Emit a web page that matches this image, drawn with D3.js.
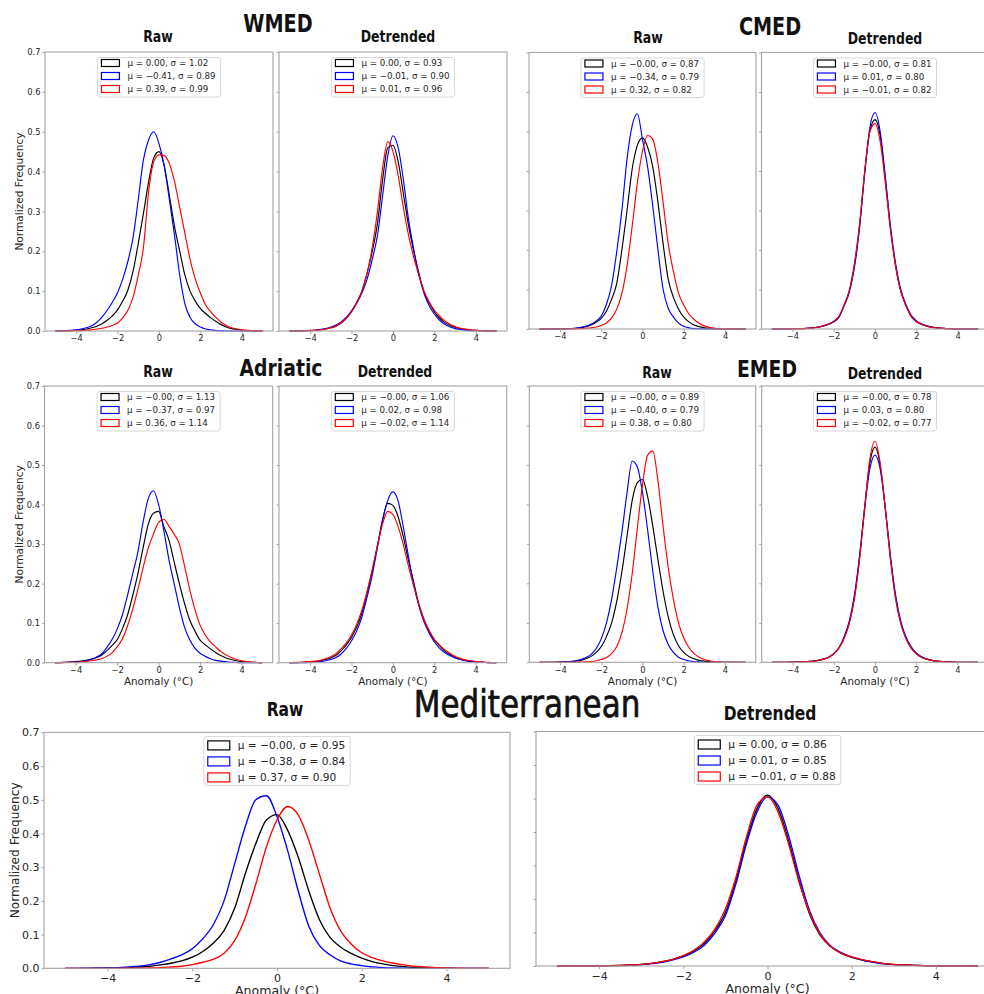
<!DOCTYPE html>
<html><head><meta charset="utf-8">
<script src="https://cdn.jsdelivr.net/npm/d3@7/dist/d3.min.js"></script>
<style>
body{margin:0;background:#fff}
svg{display:block}
text{font-family:"DejaVu Sans",sans-serif}
</style>
</head><body>
<svg id="c" width="984" height="994"></svg>
<script>
// ---------------- DATA ----------------
const anomalyGrid = [-5,-4.75,-4.5,-4.25,-4,-3.75,-3.5,-3.25,-3,-2.75,-2.5,-2.25,-2,-1.75,-1.5,-1.25,-1,-0.75,-0.5,-0.25,0,0.25,0.5,0.75,1,1.25,1.5,1.75,2,2.25,2.5,2.75,3,3.25,3.5,3.75,4,4.25,4.5,4.75,5];
const xTickValues = [-4,-2,0,2,4];
const yTickValues = [0,0.1,0.2,0.3,0.4,0.5,0.6,0.7];
const seriesColors = ["black","blue","red"];
const regionTitles = ["WMED","CMED","Adriatic","EMED","Mediterranean"];
const panelTitles = ["Raw","Detrended"];

const wmedRawBlack = [0,0,0.001,0.001,0.002, 0.003,0.005,0.008,0.012,0.018, 0.027,0.038,0.053,0.075,0.103, 0.150,0.220,0.295,0.375,0.435, 0.450,0.415,0.340,0.262,0.200, 0.140,0.100,0.075,0.056,0.044, 0.033,0.024,0.016,0.010,0.006, 0.004,0.002,0.001,0.001,0, 0];
const wmedRawBlue  = [0,0.0005,0.001,0.002,0.003, 0.005,0.008,0.013,0.022,0.035, 0.052,0.072,0.096,0.130,0.175, 0.235,0.330,0.430,0.480,0.500, 0.470,0.415,0.330,0.240,0.140, 0.068,0.034,0.018,0.010,0.005, 0.003,0.001,0.0005,0,0, 0,0,0,0,0, 0];
const wmedRawRed   = [0,0,0,0.0005,0.001, 0.001,0.002,0.003,0.005,0.007, 0.010,0.014,0.020,0.033,0.052, 0.085,0.140,0.210,0.350,0.425, 0.442,0.440,0.420,0.375,0.310, 0.245,0.180,0.130,0.095,0.065, 0.048,0.034,0.022,0.014,0.008, 0.005,0.003,0.002,0.001,0.0005, 0];
const wmedDetBlack = [0,0,0.0005,0.001,0.0015, 0.002,0.003,0.005,0.008,0.012, 0.020,0.032,0.050,0.072,0.100, 0.145,0.200,0.270,0.380,0.460, 0.466,0.425,0.345,0.265,0.200, 0.145,0.098,0.070,0.048,0.032, 0.021,0.014,0.009,0.006,0.004, 0.002,0.0015,0.001,0.0005,0, 0];
const wmedDetBlue  = [0,0,0,0.001,0.001, 0.002,0.004,0.006,0.010,0.015, 0.023,0.035,0.050,0.070,0.095, 0.130,0.180,0.240,0.340,0.440, 0.490,0.460,0.380,0.280,0.205, 0.140,0.094,0.063,0.042,0.027, 0.017,0.010,0.006,0.004,0.002, 0.001,0.001,0,0,0, 0];
const wmedDetRed   = [0,0,0,0.0005,0.001, 0.002,0.003,0.005,0.008,0.013, 0.021,0.032,0.048,0.070,0.100, 0.145,0.210,0.300,0.410,0.475, 0.450,0.390,0.310,0.240,0.185, 0.140,0.100,0.073,0.052,0.037, 0.025,0.017,0.011,0.007,0.005, 0.003,0.002,0.001,0.0005,0, 0];

const cmedRawBlack = [0,0,0,0.0005,0.0005, 0.001,0.001,0.002,0.003,0.006, 0.010,0.017,0.027,0.045,0.075, 0.115,0.200,0.300,0.405,0.465, 0.484,0.460,0.410,0.320,0.215, 0.125,0.080,0.050,0.030,0.018, 0.010,0.006,0.003,0.002,0.001, 0.0005,0,0,0,0, 0];
const cmedRawBlue  = [0,0,0,0,0, 0,0.001,0.002,0.004,0.007, 0.012,0.020,0.033,0.062,0.110, 0.195,0.300,0.430,0.515,0.545, 0.480,0.410,0.310,0.200,0.100, 0.052,0.030,0.015,0.007,0.003, 0.001,0.0005,0,0,0, 0,0,0,0,0, 0];
const cmedRawRed   = [0,0,0,0,0, 0,0,0.0005,0.001,0.002, 0.003,0.005,0.009,0.015,0.028, 0.050,0.090,0.160,0.260,0.370, 0.450,0.490,0.480,0.420,0.320, 0.215,0.145,0.090,0.060,0.038, 0.024,0.014,0.008,0.004,0.002, 0.001,0.0005,0,0,0, 0];
const cmedDetBlack = [0,0,0,0,0.0005, 0.001,0.001,0.002,0.003,0.005, 0.008,0.012,0.018,0.030,0.060, 0.095,0.160,0.260,0.395,0.500, 0.530,0.490,0.380,0.255,0.160, 0.095,0.060,0.032,0.019,0.012, 0.008,0.005,0.003,0.002,0.001, 0.0005,0,0,0,0, 0];
const cmedDetBlue  = [0,0,0,0,0.0005, 0.001,0.001,0.002,0.003,0.005, 0.008,0.012,0.019,0.030,0.058, 0.092,0.155,0.255,0.395,0.510, 0.548,0.500,0.385,0.260,0.165, 0.100,0.062,0.035,0.021,0.013, 0.008,0.005,0.003,0.002,0.001, 0.0005,0,0,0,0, 0];
const cmedDetRed   = [0,0,0,0,0.0005, 0.001,0.001,0.002,0.003,0.005, 0.008,0.013,0.020,0.032,0.060, 0.097,0.165,0.265,0.400,0.500, 0.520,0.475,0.370,0.250,0.158, 0.095,0.058,0.033,0.019,0.012, 0.007,0.004,0.003,0.002,0.001, 0.0005,0,0,0,0, 0];

const adrRawBlack = [0,0.0005,0.001,0.002,0.003, 0.004,0.006,0.009,0.013,0.019, 0.030,0.043,0.058,0.085,0.120, 0.170,0.225,0.290,0.350,0.378, 0.383,0.345,0.310,0.255,0.200, 0.150,0.108,0.080,0.057,0.045, 0.035,0.026,0.018,0.012,0.008, 0.005,0.003,0.002,0.001,0.0005, 0];
const adrRawBlue  = [0,0,0.001,0.001,0.002, 0.003,0.005,0.008,0.014,0.022, 0.038,0.058,0.085,0.120,0.170, 0.225,0.280,0.355,0.415,0.435, 0.400,0.335,0.260,0.200,0.140, 0.090,0.058,0.037,0.024,0.016, 0.010,0.006,0.004,0.002,0.001, 0.0005,0,0,0,0, 0];
const adrRawRed   = [0,0,0.0005,0.001,0.001, 0.002,0.003,0.005,0.007,0.010, 0.016,0.025,0.040,0.060,0.093, 0.135,0.185,0.240,0.290,0.325, 0.355,0.363,0.345,0.325,0.300, 0.245,0.185,0.135,0.095,0.070, 0.052,0.040,0.028,0.020,0.013, 0.008,0.005,0.003,0.0015,0.0005, 0];
const adrDetBlack = [0,0,0.0005,0.001,0.002, 0.003,0.005,0.008,0.012,0.019, 0.030,0.045,0.064,0.090,0.125, 0.175,0.230,0.295,0.360,0.403, 0.398,0.370,0.320,0.260,0.205, 0.150,0.110,0.080,0.058,0.043, 0.030,0.021,0.014,0.009,0.006, 0.004,0.002,0.001,0.0005,0, 0];
const adrDetBlue  = [0,0,0,0,0.001, 0.002,0.003,0.005,0.008,0.013, 0.022,0.036,0.055,0.080,0.115, 0.165,0.220,0.290,0.360,0.410, 0.432,0.410,0.345,0.270,0.200, 0.145,0.104,0.075,0.053,0.037, 0.026,0.018,0.012,0.008,0.005, 0.003,0.002,0.001,0.0005,0, 0];
const adrDetRed   = [0,0.001,0.001,0.002,0.003, 0.004,0.006,0.010,0.015,0.023, 0.035,0.050,0.070,0.097,0.132, 0.180,0.235,0.295,0.350,0.383, 0.375,0.345,0.300,0.245,0.195, 0.148,0.110,0.082,0.060,0.045, 0.033,0.024,0.016,0.011,0.007, 0.005,0.003,0.002,0.001,0.0005, 0];

const emedRawBlack = [0,0,0,0,0.001, 0.001,0.002,0.003,0.005,0.009, 0.015,0.025,0.040,0.065,0.100, 0.155,0.230,0.320,0.410,0.455, 0.463,0.420,0.345,0.260,0.180, 0.115,0.070,0.042,0.025,0.015, 0.009,0.005,0.003,0.002,0.001, 0,0,0,0,0, 0];
const emedRawBlue  = [0,0,0,0,0.0005, 0.001,0.002,0.004,0.007,0.012, 0.020,0.035,0.060,0.100,0.160, 0.240,0.330,0.430,0.510,0.495, 0.430,0.335,0.230,0.140,0.080, 0.045,0.025,0.013,0.007,0.004, 0.002,0.001,0,0,0, 0,0,0,0,0, 0];
const emedRawRed   = [0,0,0,0,0, 0,0,0,0.0005,0.001, 0.002,0.004,0.007,0.012,0.022, 0.040,0.075,0.135,0.225,0.340, 0.450,0.525,0.535,0.460,0.345, 0.240,0.160,0.100,0.062,0.038, 0.022,0.013,0.007,0.004,0.002, 0.001,0,0,0,0, 0];
const emedDetBlack = [0,0,0,0,0.0005, 0.001,0.001,0.002,0.003,0.005, 0.008,0.013,0.022,0.037,0.062, 0.100,0.165,0.265,0.395,0.505, 0.545,0.500,0.390,0.265,0.165, 0.100,0.062,0.037,0.022,0.013, 0.008,0.005,0.003,0.002,0.001, 0.0005,0,0,0,0, 0];
const emedDetBlue  = [0,0,0,0,0.0005, 0.001,0.001,0.002,0.003,0.005, 0.008,0.013,0.022,0.037,0.064, 0.104,0.170,0.270,0.390,0.490, 0.525,0.490,0.390,0.270,0.170, 0.105,0.065,0.040,0.024,0.015, 0.009,0.005,0.003,0.002,0.001, 0.0005,0,0,0,0, 0];
const emedDetRed   = [0,0,0,0,0.0005, 0.001,0.001,0.002,0.003,0.005, 0.008,0.013,0.022,0.036,0.060, 0.098,0.160,0.260,0.390,0.515, 0.560,0.505,0.390,0.260,0.160, 0.098,0.060,0.036,0.022,0.013, 0.008,0.005,0.003,0.002,0.001, 0.0005,0,0,0,0, 0];

const medRawBlack = [0,0,0,0.0005,0.001, 0.001,0.002,0.004,0.006,0.010, 0.015,0.022,0.033,0.050,0.075, 0.112,0.178,0.280,0.370,0.440, 0.456,0.410,0.330,0.230,0.145, 0.092,0.063,0.044,0.030,0.020, 0.013,0.008,0.005,0.003,0.002, 0.001,0.0005,0,0,0, 0];
const medRawBlue  = [0,0,0.0005,0.001,0.001, 0.002,0.004,0.006,0.011,0.018, 0.028,0.040,0.058,0.088,0.130, 0.200,0.310,0.420,0.500,0.512, 0.450,0.350,0.230,0.125,0.068, 0.040,0.022,0.013,0.008,0.004, 0.002,0.001,0.0005,0,0, 0,0,0,0,0, 0];
const medRawRed   = [0,0,0,0,0, 0,0.0005,0.0005,0.001,0.002, 0.004,0.006,0.011,0.018,0.027, 0.045,0.082,0.150,0.250,0.360, 0.440,0.480,0.455,0.380,0.280, 0.180,0.112,0.072,0.046,0.032, 0.022,0.015,0.010,0.006,0.004, 0.002,0.001,0.0005,0,0, 0];
const medDetBlack = [0,0,0,0,0.0005, 0.001,0.002,0.003,0.005,0.008, 0.013,0.020,0.030,0.045,0.068, 0.105,0.160,0.255,0.375,0.470, 0.510,0.470,0.375,0.255,0.155, 0.092,0.058,0.038,0.026,0.018, 0.012,0.007,0.004,0.003,0.002, 0.001,0.0005,0,0,0, 0];
const medDetBlue  = [0,0,0,0,0.0005, 0.001,0.001,0.002,0.004,0.007, 0.011,0.018,0.027,0.041,0.062, 0.098,0.150,0.245,0.365,0.460, 0.505,0.480,0.390,0.270,0.165, 0.098,0.060,0.040,0.027,0.018, 0.012,0.007,0.004,0.003,0.002, 0.001,0.0005,0,0,0, 0];
const medDetRed   = [0,0,0,0,0.0005, 0.001,0.002,0.003,0.005,0.008, 0.013,0.020,0.031,0.047,0.072, 0.110,0.170,0.265,0.385,0.480, 0.505,0.460,0.365,0.250,0.160, 0.095,0.058,0.038,0.027,0.019, 0.013,0.008,0.005,0.003,0.002, 0.001,0.0005,0,0,0, 0];

const wmedRawLegend = ["μ = 0.00, σ = 1.02","μ = −0.41, σ = 0.89","μ = 0.39, σ = 0.99"];
const wmedDetLegend = ["μ = 0.00, σ = 0.93","μ = −0.01, σ = 0.90","μ = 0.01, σ = 0.96"];
const cmedRawLegend = ["μ = −0.00, σ = 0.87","μ = −0.34, σ = 0.79","μ = 0.32, σ = 0.82"];
const cmedDetLegend = ["μ = −0.00, σ = 0.81","μ = 0.01, σ = 0.80","μ = −0.01, σ = 0.82"];
const adrRawLegend  = ["μ = −0.00, σ = 1.13","μ = −0.37, σ = 0.97","μ = 0.36, σ = 1.14"];
const adrDetLegend  = ["μ = −0.00, σ = 1.06","μ = 0.02, σ = 0.98","μ = −0.02, σ = 1.14"];
const emedRawLegend = ["μ = −0.00, σ = 0.89","μ = −0.40, σ = 0.79","μ = 0.38, σ = 0.80"];
const emedDetLegend = ["μ = −0.00, σ = 0.78","μ = 0.03, σ = 0.80","μ = −0.02, σ = 0.77"];
const medRawLegend  = ["μ = −0.00, σ = 0.95","μ = −0.38, σ = 0.84","μ = 0.37, σ = 0.90"];
const medDetLegend  = ["μ = 0.00, σ = 0.86","μ = 0.01, σ = 0.85","μ = −0.01, σ = 0.88"];

// ---------------- LAYOUT ----------------
const panels = [
  {series:[wmedRawBlack,wmedRawBlue,wmedRawRed], legend:wmedRawLegend, left:45, right:273, top:52, bottom:331, yLab:true, xLab:false, big:false},
  {series:[wmedDetBlack,wmedDetBlue,wmedDetRed], legend:wmedDetLegend, left:279, right:507, top:52, bottom:331, yLab:false, xLab:false, big:false},
  {series:[cmedRawBlack,cmedRawBlue,cmedRawRed], legend:cmedRawLegend, left:529, right:756, top:52.5, bottom:329, yLab:false, xLab:false, big:false},
  {series:[cmedDetBlack,cmedDetBlue,cmedDetRed], legend:cmedDetLegend, left:761.5, right:988.5, top:52.5, bottom:329, yLab:false, xLab:false, big:false},
  {series:[adrRawBlack,adrRawBlue,adrRawRed], legend:adrRawLegend, left:44.5, right:272.7, top:386, bottom:662.7, yLab:true, xLab:true, big:false},
  {series:[adrDetBlack,adrDetBlue,adrDetRed], legend:adrDetLegend, left:279, right:506.7, top:386, bottom:662.7, yLab:false, xLab:true, big:false},
  {series:[emedRawBlack,emedRawBlue,emedRawRed], legend:emedRawLegend, left:529.3, right:755.7, top:386, bottom:662.3, yLab:false, xLab:true, big:false},
  {series:[emedDetBlack,emedDetBlue,emedDetRed], legend:emedDetLegend, left:761.7, right:988.3, top:386, bottom:662.3, yLab:false, xLab:true, big:false},
  {series:[medRawBlack,medRawBlue,medRawRed], legend:medRawLegend, left:44, right:510, top:732.4, bottom:968.3, yLab:true, xLab:true, big:true},
  {series:[medDetBlack,medDetBlue,medDetRed], legend:medDetLegend, left:536, right:999, top:731.5, bottom:966, yLab:false, xLab:true, big:true}
];

const svg = d3.select("#c");
const spineColor = "#a3a3a3";
const tickTextColor = "#262626";
const fmtX = d => (d < 0 ? "\u2212" + Math.abs(d) : String(d));

panels.forEach(p => {
  const x = d3.scaleLinear().domain([-5.5, 5.5]).range([p.left, p.right]);
  const y = d3.scaleLinear().domain([0, 0.7]).range([p.bottom, p.top]);
  const g = svg.append("g");
  const tickFs = p.big ? 11 : 8.3;

  // curves
  p.series.forEach((vals, i) => {
    const line = d3.line()
      .x((d, j) => x(anomalyGrid[j]))
      .y(d => y(d))
      .curve(d3.curveMonotoneX);
    g.append("path").attr("d", line(vals))
      .attr("fill", "none").attr("stroke", seriesColors[i])
      .attr("stroke-width", p.big ? 1.35 : 1.15).attr("stroke-linejoin", "round");
  });

  // x axis
  const xa = g.append("g").attr("transform", `translate(0,${p.bottom})`)
    .call(d3.axisBottom(x).tickValues(xTickValues).tickSize(3).tickPadding(p.big ? 3 : 1.5).tickFormat(fmtX));
  xa.select(".domain").remove();
  xa.selectAll(".tick line").attr("stroke", spineColor);
  xa.selectAll(".tick text").attr("fill", tickTextColor).style("font-size", tickFs + "px").style("font-family", "DejaVu Sans");

  // y axis
  const ya = g.append("g").attr("transform", `translate(${p.left},0)`)
    .call(d3.axisLeft(y).tickValues(yTickValues).tickSize(2.5).tickPadding(2).tickFormat(d3.format(".1f")));
  ya.select(".domain").remove();
  ya.selectAll(".tick line").attr("stroke", spineColor);
  if (p.yLab) {
    ya.selectAll(".tick text").attr("fill", tickTextColor).style("font-size", tickFs + "px").style("font-family", "DejaVu Sans");
  } else {
    ya.selectAll(".tick text").remove();
  }

  // frame
  g.append("rect").attr("x", p.left).attr("y", p.top)
    .attr("width", p.right - p.left).attr("height", p.bottom - p.top)
    .attr("fill", "none").attr("stroke", spineColor).attr("stroke-width", 1.1);

  // legend
  const fs = p.big ? 10.6 : 8.7;
  const rowH = p.big ? 16 : 13;
  const hW = p.big ? 22 : 18, hH = p.big ? 9 : 7;
  const cx = (p.left + p.right) / 2;
  const lg = g.append("g");
  const texts = p.legend.map((t, i) => lg.append("text").text(t).style("font-size", fs + "px").attr("fill", "#262626"));
  const maxW = d3.max(texts, t => t.node().getComputedTextLength());
  const boxW = 4 + hW + 8 + maxW + 5;
  const boxX = cx - boxW / 2;
  const boxY = p.top + (p.big ? 4 : 5.5);
  const firstRow = p.top + (p.big ? 13 : 11);
  lg.insert("rect", "text").attr("x", boxX).attr("y", boxY).attr("width", boxW)
    .attr("height", rowH * 3 + (p.big ? 1 : 0.5)).attr("rx", 2.5)
    .attr("fill", "white").attr("fill-opacity", 0.85).attr("stroke", "#d8d8d8").attr("stroke-width", 1);
  texts.forEach((t, i) => {
    const cy = firstRow + i * rowH;
    t.attr("x", boxX + 4 + hW + 8).attr("y", cy).attr("dy", "0.36em");
    lg.append("rect").attr("x", boxX + 4).attr("y", cy - hH / 2).attr("width", hW).attr("height", hH)
      .attr("fill", "none").attr("stroke", seriesColors[i]).attr("stroke-width", 1.2);
  });

  // axis titles
  if (p.xLab) {
    g.append("text").text("Anomaly (°C)")
      .attr("x", (p.left + p.right) / 2)
      .attr("y", p.bottom + (p.big ? 27 : 22.5))
      .attr("text-anchor", "middle").style("font-size", (p.big ? 12.6 : 10.4) + "px").attr("fill", "#262626");
  }
  if (p.yLab) {
    const cy = (p.top + p.bottom) / 2;
    const lx = p.big ? 19 : 23;
    g.append("text").text("Normalized Frequency")
      .attr("transform", `translate(${lx},${cy}) rotate(-90)`)
      .attr("text-anchor", "middle").style("font-size", (p.big ? 12.2 : 10.6) + "px").attr("fill", "#262626");
  }
});

// ---------------- TITLES ----------------
const regionTitlePos = [
  {x:278, y:32, size:19.2, weight:"bold", sy:1.25},
  {x:770, y:35, size:19.2, weight:"bold", sy:1.25},
  {x:281, y:376, size:18.8, weight:"bold", sy:1.25},
  {x:767, y:377, size:18.8, weight:"bold", sy:1.25},
  {x:527, y:717, size:31, weight:"normal", sy:1.2}
];
regionTitles.forEach((t, i) => {
  const s = regionTitlePos[i];
  svg.append("text").text(t)
    .attr("transform", `translate(${s.x},${s.y}) scale(1,${s.sy})`)
    .attr("text-anchor", "middle").style("font-size", s.size + "px").style("font-weight", s.weight).attr("fill", "#111")
    .attr("stroke", s.weight === "normal" ? "#111" : "none").attr("stroke-width", s.weight === "normal" ? 0.6 : 0);
});

const subTitlePos = [
  {x:158, y:42, k:0}, {x:398, y:42, k:1},
  {x:648, y:43, k:0}, {x:885, y:44, k:1},
  {x:158, y:377, k:0}, {x:395, y:377, k:1},
  {x:657, y:378, k:0}, {x:885, y:379, k:1},
  {x:285, y:716, k:0, big:true}, {x:770, y:720, k:1, big:true}
];
subTitlePos.forEach(s => {
  svg.append("text").text(panelTitles[s.k])
    .attr("transform", `translate(${s.x},${s.y}) scale(1,1.25)`)
    .attr("text-anchor", "middle").style("font-size", (s.big ? 15.5 : 12.5) + "px").style("font-weight", "bold").attr("fill", "#111");
});
</script>
</body></html>
